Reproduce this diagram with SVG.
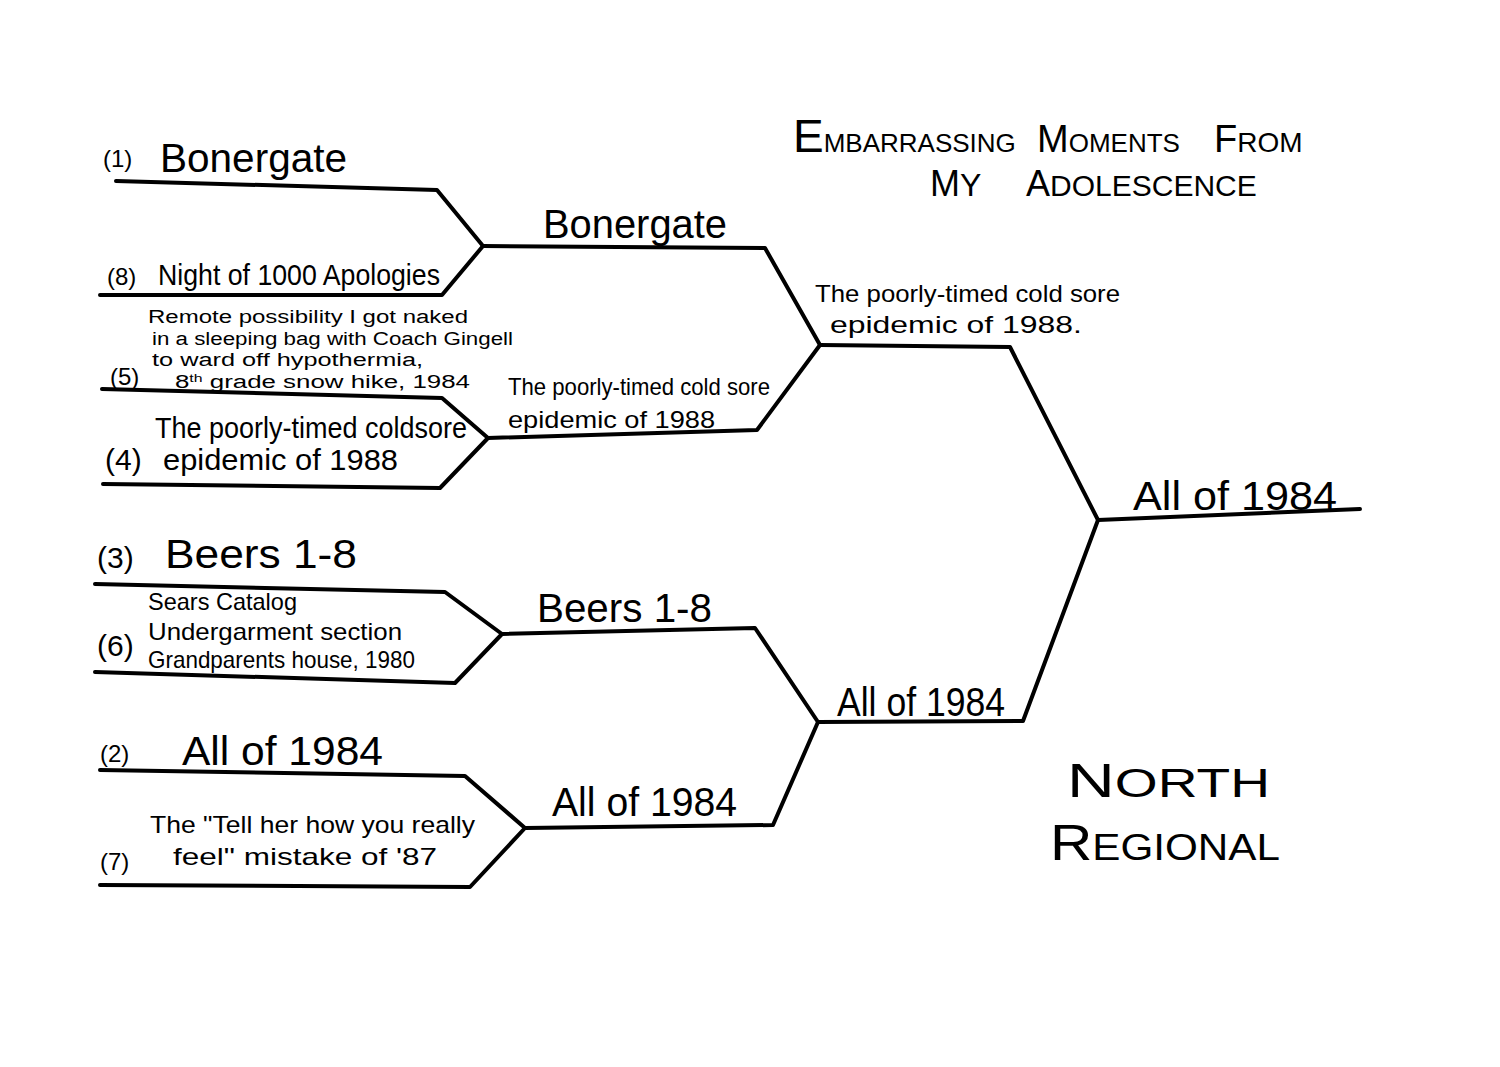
<svg xmlns="http://www.w3.org/2000/svg" width="1500" height="1067" viewBox="0 0 1500 1067">
<style>
.ln{fill:none;stroke:#000;stroke-width:4;stroke-linejoin:round;stroke-linecap:round}
text{font-family:"Liberation Sans","DejaVu Sans",sans-serif;fill:#000}
.seed{font-size:24px}
.big{font-size:40px}
.mid{font-size:30px}
.sm{font-size:24px}
.xs{font-size:18px}
</style>
<rect width="1500" height="1067" fill="#fff"/>
<g id="connectors">
<path class="ln" d="M116,181 L437,190 L483,246"/>
<path class="ln" d="M100,295 L442,295 L483,246"/>
<path class="ln" d="M483,246 L765,248 L820,345"/>
<path class="ln" d="M102,389 L442,398 L488,438"/>
<path class="ln" d="M103,484 L440,488 L488,438"/>
<path class="ln" d="M488,438 L757,430 L820,345"/>
<path class="ln" d="M820,345 L1010,347 L1098,520"/>
<path class="ln" d="M95,584 L445,592 L502,634"/>
<path class="ln" d="M95,672 L455,683 L502,634"/>
<path class="ln" d="M502,634 L755,628 L818,722"/>
<path class="ln" d="M100,770 L465,776 L525,828"/>
<path class="ln" d="M100,885 L470,887 L525,828"/>
<path class="ln" d="M525,828 L773,825 L818,722"/>
<path class="ln" d="M818,722 L1023,721 L1098,520"/>
<path class="ln" d="M1098,520 L1360,509"/>
</g>
<g id="title">
<text x="793" y="152"><tspan font-size="46">E</tspan><tspan font-size="26">MBARRASSING</tspan></text>
<text x="1037" y="152"><tspan font-size="38">M</tspan><tspan font-size="26">OMENTS</tspan></text>
<text x="1214" y="152"><tspan font-size="38">F</tspan><tspan font-size="28">ROM</tspan></text>
<text x="930" y="196"><tspan font-size="36">M</tspan><tspan font-size="32">Y</tspan></text>
<text x="1026" y="196"><tspan font-size="36">A</tspan><tspan font-size="30">DOLESCENCE</tspan></text>
</g>
<g id="seed1">
<text class="seed" x="103" y="167">(1)</text>
<text class="big" x="160" y="172" font-size="44" textLength="187" lengthAdjust="spacingAndGlyphs">Bonergate</text>
</g>
<g id="seed8">
<text class="seed" x="107" y="285">(8)</text>
<text class="mid" x="158" y="285" textLength="282" lengthAdjust="spacingAndGlyphs">Night of 1000 Apologies</text>
</g>
<g id="seed5">
<text class="seed" x="110" y="385" font-size="26">(5)</text>
<text class="xs" x="148" y="323" textLength="320" lengthAdjust="spacingAndGlyphs">Remote possibility I got naked</text>
<text class="xs" x="152" y="345" textLength="361" lengthAdjust="spacingAndGlyphs">in a sleeping bag with Coach Gingell</text>
<text class="xs" x="152" y="366" textLength="271" lengthAdjust="spacingAndGlyphs">to ward off hypothermia,</text>
<text class="xs" x="175" y="388" textLength="295" lengthAdjust="spacingAndGlyphs">8<tspan font-size="11" baseline-shift="super">th</tspan> grade snow hike, 1984</text>
</g>
<g id="seed4">
<text class="mid" x="105" y="470">(4)</text>
<text class="mid" x="155" y="438" font-size="28" textLength="312" lengthAdjust="spacingAndGlyphs">The poorly-timed coldsore</text>
<text class="mid" x="163" y="470" font-size="28" textLength="235" lengthAdjust="spacingAndGlyphs">epidemic of 1988</text>
</g>
<g id="seed3">
<text class="mid" x="97" y="568">(3)</text>
<text class="big" x="165" y="568" textLength="192" lengthAdjust="spacingAndGlyphs">Beers 1-8</text>
</g>
<g id="seed6">
<text class="mid" x="97" y="656" font-size="28">(6)</text>
<text class="sm" x="148" y="610" textLength="149" lengthAdjust="spacingAndGlyphs">Sears Catalog</text>
<text class="sm" x="148" y="640" textLength="254" lengthAdjust="spacingAndGlyphs">Undergarment section</text>
<text class="sm" x="148" y="668" textLength="267" lengthAdjust="spacingAndGlyphs">Grandparents house, 1980</text>
</g>
<g id="seed2">
<text class="seed" x="100" y="762">(2)</text>
<text class="big" x="182" y="765" textLength="201" lengthAdjust="spacingAndGlyphs">All of 1984</text>
</g>
<g id="seed7">
<text class="seed" x="100" y="870">(7)</text>
<text class="sm" x="150" y="833" textLength="325" lengthAdjust="spacingAndGlyphs">The "Tell her how you really</text>
<text class="sm" x="173" y="865" textLength="264" lengthAdjust="spacingAndGlyphs">feel" mistake of '87</text>
</g>
<g id="r2-1">
<text class="big" x="543" y="238" textLength="184" lengthAdjust="spacingAndGlyphs">Bonergate</text>
</g>
<g id="r2-2">
<text class="sm" x="508" y="395" textLength="262" lengthAdjust="spacingAndGlyphs">The poorly-timed cold sore</text>
<text class="sm" x="508" y="428" textLength="207" lengthAdjust="spacingAndGlyphs">epidemic of 1988</text>
</g>
<g id="r2-3">
<text class="big" x="537" y="622" textLength="175" lengthAdjust="spacingAndGlyphs">Beers 1-8</text>
</g>
<g id="r2-4">
<text class="big" x="552" y="816" textLength="185" lengthAdjust="spacingAndGlyphs">All of 1984</text>
</g>
<g id="r3-1">
<text class="sm" x="815" y="302" textLength="305" lengthAdjust="spacingAndGlyphs">The poorly-timed cold sore</text>
<text class="sm" x="830" y="333" font-size="26" textLength="252" lengthAdjust="spacingAndGlyphs">epidemic of 1988.</text>
</g>
<g id="r3-2">
<text class="big" x="837" y="716" font-size="36" textLength="168" lengthAdjust="spacingAndGlyphs">All of 1984</text>
</g>
<g id="champion">
<text class="big" x="1133" y="510" font-size="42" textLength="204" lengthAdjust="spacingAndGlyphs">All of 1984</text>
</g>
<g id="region">
<text x="1067" y="797" textLength="203" lengthAdjust="spacingAndGlyphs"><tspan font-size="48">N</tspan><tspan font-size="40">ORTH</tspan></text>
<text x="1050" y="860" textLength="230" lengthAdjust="spacingAndGlyphs"><tspan font-size="50">R</tspan><tspan font-size="36">EGIONAL</tspan></text>
</g>
</svg>
